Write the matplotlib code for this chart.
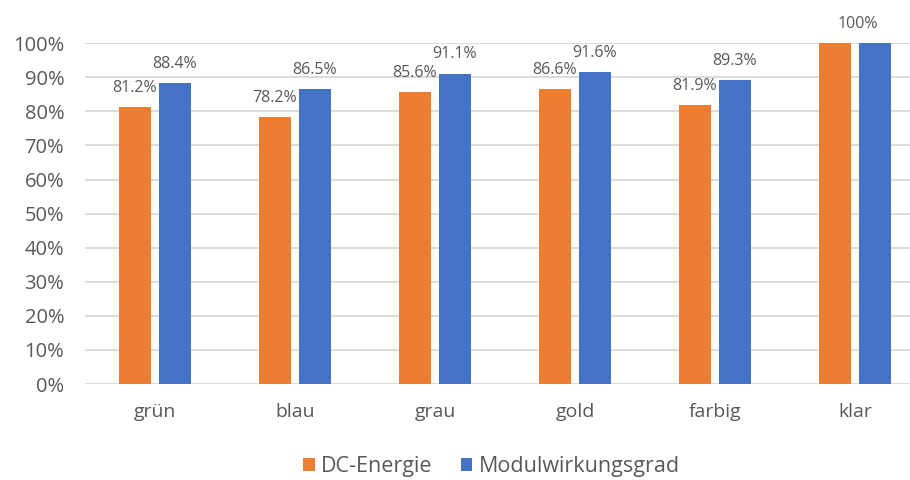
import numpy as np
import matplotlib
matplotlib.use("Agg")
import matplotlib.pyplot as plt
from matplotlib.ticker import PercentFormatter

categories = ["grün", "blau", "grau", "gold", "farbig", "klar"]
dc_energie = [81.2, 78.2, 85.6, 86.6, 81.9, 100.0]
modul_wirkungsgrad = [88.4, 86.5, 91.1, 91.6, 89.3, 100.0]

plt.rcParams["font.family"] = ["Open Sans", "DejaVu Sans"]
GRAY = "#595959"

fig = plt.figure(figsize=(9.1, 4.8), dpi=100)
ax = fig.add_axes([85 / 910, 0.2, 840 / 910, 0.71])

x = np.arange(len(categories))
w = 0.229
off = 0.143
ax.bar(x - off, dc_energie, w, color="#ED7D31", label="DC-Energie", zorder=2)
ax.bar(x + off, modul_wirkungsgrad, w, color="#4472C4", label="Modulwirkungsgrad", zorder=2)

ax.set_xlim(-0.5, len(categories) - 0.5)
ax.set_ylim(0, 100)
ax.set_yticks(np.arange(0, 101, 10))
ax.yaxis.set_major_formatter(PercentFormatter(decimals=0))
ax.set_xticks(x)
ax.set_xticklabels(categories)
ax.tick_params(axis="x", length=0, pad=14, labelsize=14, labelcolor=GRAY)
ax.tick_params(axis="y", length=0, pad=15, labelsize=14.5, labelcolor=GRAY)
ax.grid(axis="y", color="#d9d9d9", linewidth=1.3, zorder=0)
for s in ax.spines.values():
    s.set_visible(False)

for i, (a, b) in enumerate(zip(dc_energie, modul_wirkungsgrad)):
    if a == b:
        ax.annotate(f"{a:g}%", (x[i] + 0.02, a), xytext=(0, 8), textcoords="offset points",
                    ha="center", va="bottom", fontsize=11.5, color=GRAY, annotation_clip=False)
        continue
    ax.annotate(f"{a:.1f}%", (x[i] - off, a), xytext=(0, 8), textcoords="offset points",
                ha="center", va="bottom", fontsize=11.5, color=GRAY)
    ax.annotate(f"{b:.1f}%", (x[i] + off, b), xytext=(0, 8), textcoords="offset points",
                ha="center", va="bottom", fontsize=11.5, color=GRAY)

leg = fig.legend(loc="center", bbox_to_anchor=(0.54, 0.028), ncol=2, frameon=False,
                 fontsize=15.5, handlelength=0.55, handleheight=0.55, columnspacing=1.3,
                 handletextpad=0.3)
for t in leg.get_texts():
    t.set_color(GRAY)

fig.savefig("out.png", dpi=100, facecolor="white")
